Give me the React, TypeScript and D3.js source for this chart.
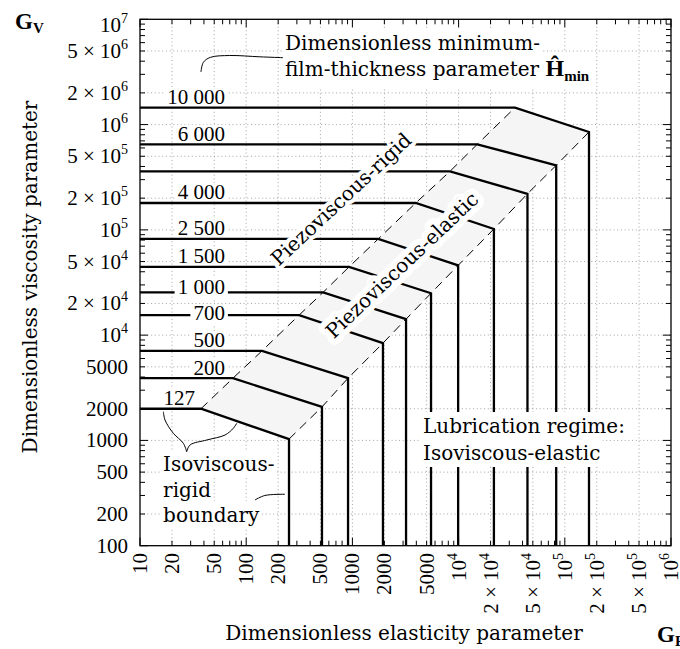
import React, { useRef, useLayoutEffect, useState } from "react";
import * as d3 from "d3";

const W = 680;
const H = 649;

// Contour data: dimensionless minimum film thickness parameter
const hminLabels = ["10 000", "6 000", "", "4 000", "2 500", "1 500", "1 000", "700", "500", "200", "127"];
// Gv level of the piezoviscous-rigid (horizontal) part
const gvLevel = [1.45e6, 6.5e5, 3.6e5, 1.8e5, 8.2e4, 4.45e4, 2.55e4, 1.55e4, 7.1e3, 3.9e3, 2.0e3];
// Ge at which the horizontal part ends (left boundary of piezoviscous-elastic band)
const geLeft = [3.4e4, 1.5e4, 8.3e3, 3.95e3, 1.75e3, 930, 530, 315, 141, 75, 37.5];
// Gv at which the sloped part ends (right boundary of band)
const gvRight = [8.5e5, 4.1e5, 2.2e5, 1.02e5, 4.6e4, 2.5e4, 1.42e4, 8.4e3, 3.9e3, 2.08e3, 1.03e3];
// Ge of the isoviscous-elastic (vertical) part
const geVert = [1.69e5, 8.3e4, 4.45e4, 2.15e4, 9.9e3, 5.5e3, 3.2e3, 1.94e3, 910, 517, 253];
const inlineLabels = ["1 000", "700"];

const geTickValues = [10, 20, 50, 100, 200, 500, 1000, 2000, 5000, 1e4, 2e4, 5e4, 1e5, 2e5, 5e5, 1e6];
const gvTickValues = [100, 200, 500, 1000, 2000, 5000, 1e4, 2e4, 5e4, 1e5, 2e5, 5e5, 1e6, 2e6, 5e6, 1e7];

// annotation leader paths, in data units [Ge, Gv]
const topLeader = [[37.5, 3.16e6], [39.5, 3.9e6], [46, 4.35e6], [70, 4.53e6], [135, 4.4e6], [222, 4.32e6]];
const braceLeft = [[16.6, 1874], [17.2, 1563], [20.6, 1169], [25.6, 939], [27.5, 781]];
const braceRight = [[27.5, 781], [29.6, 905], [42.5, 1009], [63.2, 1126], [75.6, 1304], [81.4, 1454]];
const boundaryLeader = [[121, 272], [150, 300], [232, 308]];

const NUM = "'Liberation Serif', 'Times New Roman', serif";
const TXT = "'DejaVu Serif', serif";

function BgText({ pad = 2, rectY, children, ...rest }: any) {
  const ref = useRef<SVGTextElement>(null);
  const [bb, setBb] = useState<any>(null);
  useLayoutEffect(() => {
    if (ref.current) {
      const b = ref.current.getBBox();
      setBb({ x: b.x, y: b.y, w: b.width, h: b.height });
    }
  }, []);
  let r = null;
  if (bb) {
    const y0 = rectY ? rectY[0] : bb.y - pad;
    const y1 = rectY ? rectY[1] : bb.y + bb.h + pad;
    r = <rect x={bb.x - pad} y={y0} width={bb.w + 2 * pad} height={y1 - y0} fill="white" />;
  }
  return (
    <g>
      {r}
      <text ref={ref} {...rest}>{children}</text>
    </g>
  );
}

function fmtParts(v: number) {
  if (v < 1e4) return { main: String(v), sup: "" };
  const e = Math.floor(Math.log10(v) + 1e-9);
  const m = Math.round(v / Math.pow(10, e));
  return { main: m === 1 ? "10" : `${m} × 10`, sup: String(e) };
}

export default function App() {
  const x = d3.scaleLog().domain([10, 1e6]).range([140, 671]);
  const y = d3.scaleLog().domain([100, 1e7]).range([545.7, 19.3]);
  const [x0, x1] = x.range();
  const [yB, yT] = y.range();

  const line = d3.line<number[]>().x((d) => x(d[0])).y((d) => y(d[1]));
  const curve = d3
    .line<number[]>()
    .x((d) => x(d[0]))
    .y((d) => y(d[1]))
    .curve(d3.curveCatmullRom.alpha(0.5));

  const gridX = geTickValues.filter((v) => v > 10 && v < 1e6);
  const gridY = gvTickValues.filter((v) => v > 100 && v < 1e7);

  const xMinor: { v: number; major: boolean }[] = [];
  for (let e = 1; e <= 6; e++)
    for (let m = 1; m <= 9; m++) {
      const v = m * Math.pow(10, e);
      if (v >= 10 && v <= 1e6) xMinor.push({ v, major: m === 1 });
    }
  const yMinor: { v: number; major: boolean }[] = [];
  for (let e = 2; e <= 7; e++)
    for (let m = 1; m <= 9; m++) {
      const v = m * Math.pow(10, e);
      if (v >= 100 && v <= 1e7) yMinor.push({ v, major: m === 1 });
    }

  const leftPts = gvLevel.map((g, i) => [geLeft[i], g]);
  const rightPts = gvRight.map((g, i) => [geVert[i], g]);
  const band = [...leftPts, ...rightPts.slice().reverse()];

  const fs = 21;

  return (
    <svg width={W} height={H} style={{ position: "absolute", left: 0, top: 0, background: "white" }}>
      {/* grid */}
      <g stroke="#9a9a9a" strokeWidth={0.9} strokeDasharray="1 2.7">
        {gridX.map((v) => (
          <line key={"gx" + v} x1={x(v)} x2={x(v)} y1={yB} y2={yT} />
        ))}
        {gridY.map((v) => (
          <line key={"gy" + v} x1={x0} x2={x1} y1={y(v)} y2={y(v)} />
        ))}
      </g>

      {/* piezoviscous-elastic band */}
      <path d={line(band as any) + "Z"} fill="#f5f5f5" stroke="none" />
      <g fill="none" stroke="black" strokeWidth={1} strokeDasharray="9 6">
        <path d={line(leftPts.slice().reverse() as any) || ""} />
        <path d={line(rightPts.slice().reverse() as any) || ""} />
      </g>

      {/* contours */}
      <g fill="none" stroke="black" strokeWidth={2.3} strokeLinejoin="miter">
        {gvLevel.map((g, i) => (
          <path
            key={"c" + i}
            d={
              line([
                [10, g],
                [geLeft[i], g],
                [geVert[i], gvRight[i]],
                [geVert[i], 100],
              ] as any) || ""
            }
          />
        ))}
      </g>

      {/* contour labels */}
      {hminLabels.map((lab, i) => {
        if (!lab) return null;
        const yl = y(gvLevel[i]);
        const inline = inlineLabels.includes(lab);
        const base = inline ? (lab === "700" ? yl + 5 : yl + 1.5) : yl - 3.5;
        const xr = lab === "127" ? x(37.5) - 6 : x(63);
        return (
          <BgText
            key={"l" + i}
            x={xr}
            y={base}
            textAnchor="end"
            fontFamily={NUM}
            fontSize={fs}
            pad={3}
            rectY={[base - 16, inline ? base + 5 : base + 1.5]}
          >
            {lab}
          </BgText>
        );
      })}

      {/* diagonal region labels */}
      <text
        transform={`translate(${x(782)},${y(1.96e5)}) rotate(-43)`}
        textAnchor="middle"
        dy="0.35em"
        fontFamily={TXT}
        fontSize={20}
        stroke="white"
        strokeWidth={8}
        strokeLinejoin="round"
        paintOrder="stroke"
        fill="black"
      >
        Piezoviscous-rigid
      </text>
      <text
        transform={`translate(${x(2930)},${y(4.64e4)}) rotate(-43.5)`}
        textAnchor="middle"
        dy="0.35em"
        fontFamily={TXT}
        fontSize={20}
        stroke="white"
        strokeWidth={12}
        strokeLinejoin="round"
        paintOrder="stroke"
        fill="black"
      >
        Piezoviscous-elastic
      </text>

      {/* Lubrication regime text */}
      <BgText x={x(4620)} y={y(1176)} fontFamily={TXT} fontSize={20} pad={2}>
        Lubrication regime:
      </BgText>
      <BgText x={x(4620)} y={y(1176) + 27} fontFamily={TXT} fontSize={20} pad={2}>
        Isoviscous-elastic
      </BgText>

      {/* top annotation */}
      <BgText x={x(232)} y={y(5.1e6)} fontFamily={TXT} fontSize={20} pad={3}>
        Dimensionless minimum-
      </BgText>
      <BgText x={x(232)} y={y(5.1e6) + 26} fontFamily={TXT} fontSize={20} pad={3}>
        film-thickness parameter{" "}
        <tspan fontFamily={NUM} fontWeight="bold" fontSize={24}>
          Ĥ
        </tspan>
        <tspan fontFamily={NUM} fontWeight="bold" fontSize={15} dy={5}>
          min
        </tspan>
      </BgText>
      <path d={curve(topLeader as any) || ""} fill="none" stroke="black" strokeWidth={1} />

      {/* isoviscous-rigid annotation */}
      {["Isoviscous-", "rigid", "boundary"].map((t, i) => (
        <BgText key={t} x={x(16.5)} y={y(512) + i * 25.5} fontFamily={TXT} fontSize={20} pad={2}>
          {t}
        </BgText>
      ))}
      <g fill="none" stroke="black" strokeWidth={1}>
        <path d={curve(braceLeft as any) || ""} />
        <path d={curve(braceRight as any) || ""} />
        <path d={curve(boundaryLeader as any) || ""} />
      </g>

      {/* frame and ticks */}
      <rect x={x0} y={yT} width={x1 - x0} height={yB - yT} fill="none" stroke="black" strokeWidth={1.3} />
      <g stroke="black" strokeWidth={1}>
        {xMinor.map(({ v, major }) => {
          const L = major ? 8 : 5;
          return (
            <g key={"xt" + v}>
              <line x1={x(v)} x2={x(v)} y1={yB} y2={yB - L} />
              <line x1={x(v)} x2={x(v)} y1={yT} y2={yT + L} />
            </g>
          );
        })}
        {yMinor.map(({ v, major }) => {
          const L = major ? 8 : 5;
          return (
            <g key={"yt" + v}>
              <line x1={x0} x2={x0 + L} y1={y(v)} y2={y(v)} />
              <line x1={x1} x2={x1 - L} y1={y(v)} y2={y(v)} />
            </g>
          );
        })}
      </g>

      {/* y tick labels */}
      <g fontFamily={NUM} fontSize={fs} fill="black">
        {gvTickValues.map((v) => {
          const p = fmtParts(v);
          const yy = y(v) + (v === 1e7 ? 6 : 0) + 7;
          return (
            <text key={"yl" + v} x={128} y={yy} textAnchor="end">
              {p.main}
              {p.sup && (
                <tspan dy={-9} fontSize={14}>
                  {p.sup}
                </tspan>
              )}
            </text>
          );
        })}
      </g>

      {/* x tick labels */}
      <g fontFamily={NUM} fontSize={fs} fill="black">
        {geTickValues.map((v) => {
          const p = fmtParts(v);
          return (
            <text
              key={"xl" + v}
              transform={`translate(${x(v) + 7},${553}) rotate(-90)`}
              textAnchor="end"
            >
              {p.main}
              {p.sup && (
                <tspan dy={-9} fontSize={14}>
                  {p.sup}
                </tspan>
              )}
            </text>
          );
        })}
      </g>

      {/* axis titles */}
      <text x={404} y={640} textAnchor="middle" fontFamily={TXT} fontSize={20}>
        Dimensionless elasticity parameter
      </text>
      <text transform={`translate(37,277) rotate(-90)`} textAnchor="middle" fontFamily={TXT} fontSize={20}>
        Dimensionless viscosity parameter
      </text>
      <text x={15} y={29} fontFamily={NUM} fontWeight="bold" fontSize={23}>
        G
        <tspan fontSize={15} dy={4}>
          V
        </tspan>
      </text>
      <text x={657} y={642} fontFamily={NUM} fontWeight="bold" fontSize={23}>
        G
        <tspan fontSize={15} dy={4}>
          E
        </tspan>
      </text>
    </svg>
  );
}
